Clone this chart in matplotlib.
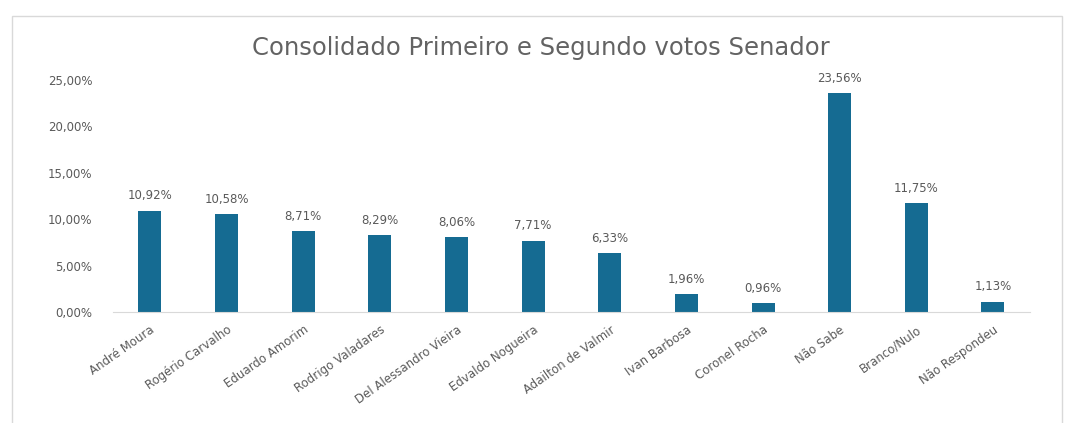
import matplotlib.pyplot as plt
from matplotlib.patches import Rectangle
from matplotlib.ticker import FuncFormatter

candidatos = ['André Moura', 'Rogério Carvalho', 'Eduardo Amorim', 'Rodrigo Valadares',
              'Del Alessandro Vieira', 'Edvaldo Nogueira', 'Adailton de Valmir',
              'Ivan Barbosa', 'Coronel Rocha', 'Não Sabe', 'Branco/Nulo', 'Não Respondeu']
percentuais = [10.92, 10.58, 8.71, 8.29, 8.06, 7.71, 6.33, 1.96, 0.96, 23.56, 11.75, 1.13]
yticks = [0, 5, 10, 15, 20, 25]

azul = '#156b92'
cinza = '#5a5a5a'

plt.rcParams['font.family'] = ['DejaVu Sans']

def pct(v, pos=None):
    return f'{v:.2f}%'.replace('.', ',')

fig = plt.figure(figsize=(10.66, 4.23), dpi=100)
ax = fig.add_axes([0.106, 0.262, 0.86, 0.549])

# moldura da área do gráfico
fig.patches.append(Rectangle((12 / 1066, -0.01), 1050 / 1066, 1 - 16 / 423 + 0.01,
                             transform=fig.transFigure, fill=False,
                             edgecolor='#d9d9d9', linewidth=1.0))

x = range(len(candidatos))
barras = ax.bar(x, percentuais, width=0.3, color=azul)
for b, v in zip(barras, percentuais):
    ax.text(b.get_x() + b.get_width() / 2, v + 0.9, pct(v), ha='center', va='bottom',
            fontsize=8.5, color=cinza)

ax.set_xlim(-0.48, 11.48)
ax.set_ylim(0, 25)
ax.set_yticks(yticks)
ax.yaxis.set_major_formatter(FuncFormatter(pct))
ax.set_xticks(list(x))
ax.set_xticklabels(candidatos, rotation=35, ha='right', rotation_mode='anchor',
                   fontsize=8.5, color=cinza)
ax.tick_params(axis='y', labelsize=8.5, labelcolor=cinza, length=0, pad=15)
ax.tick_params(axis='x', length=0, pad=8)

for lado in ['top', 'right', 'left']:
    ax.spines[lado].set_visible(False)
ax.spines['bottom'].set_color('#d9d9d9')

fig.text(0.507, 0.887, 'Consolidado Primeiro e Segundo votos Senador', ha='center', va='center',
         fontsize=17.5, color='#636363')

fig.savefig('out.png', dpi=100)
